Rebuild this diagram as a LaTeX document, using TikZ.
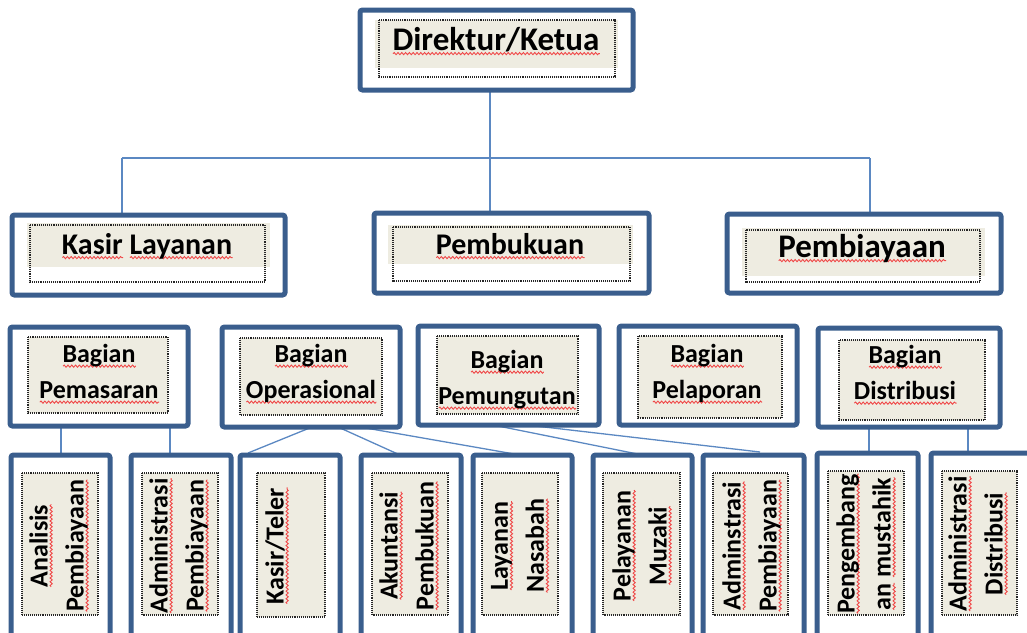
\documentclass[tikz,border=0pt]{standalone}
\usepackage{fontspec}
\setmainfont{Carlito}
\usetikzlibrary{decorations.pathmorphing}
\definecolor{boxblue}{HTML}{3A5E8D}
\definecolor{linkblue}{HTML}{5B88C2}
\definecolor{beige}{HTML}{EEECE1}
\definecolor{squig}{HTML}{F04848}

% red wavy spell-check underline under a word
\newsavebox\sqbox
\newcommand\sq[1]{\sbox\sqbox{#1}\rlap{\tikz[baseline=0pt]\draw[squig, line width=0.9pt,
  decorate, decoration={snake, amplitude=1.1pt, segment length=3.8pt}]
  (0pt,-3.6pt) -- (\wd\sqbox,-3.6pt);}\usebox\sqbox}

\pgfdeclarelayer{background}
\pgfsetlayers{background,main}

\tikzset{
  obox/.style={draw=boxblue, line width=5pt, rounded corners=2.5pt, fill=white,
    inner sep=0pt, outer sep=0pt},
  conn/.style={draw=linkblue, line width=1.3pt},
  dots/.style={draw=black!85, line width=1.4pt, dash pattern=on 1pt off 0.9pt},
  big/.style={inner sep=0pt, anchor=base, font={\bfseries\fontsize{33}{40}\selectfont}},
  mid/.style={inner sep=0pt, anchor=base, font={\bfseries\fontsize{30}{40}\selectfont}},
  lbl/.style={inner sep=0pt, align=center, font={\bfseries\fontsize{26}{36}\selectfont}},
  vlbl/.style={lbl, rotate=90},
}

% frame box: name, left, top, right, bottom
\newcommand\frameat[5]{\node[obox, anchor=north west, minimum width={#4-#2},
  minimum height={#5-#3}] (#1) at (#2,#3) {};}
% shaded dotted text panel: left, top, right, bottom
\newcommand\panel[4]{\fill[beige] (#1,#2) rectangle (#3,#4);
  \draw[dots] (#1,#2) rectangle (#3,#4);}

\begin{document}
\begin{tikzpicture}[x=1pt, y=-1pt]
\useasboundingbox (0,0) rectangle (1027,632);
\clip (0,0) rectangle (1027,632);

% ---- top level
\frameat{dir}{360}{10}{633}{90}
\fill[beige] (375,20) rectangle (618,68);
\draw[dots] (379,20) rectangle (615,77);
\node[big] (t-dir) at (496,50) {\sq{Direktur/Ketua}};

% ---- second level
\frameat{kl}{12}{215}{285}{295}
\fill[beige] (27,223) rectangle (270,267);
\draw[dots] (30,225) rectangle (265,282);
\node[mid] (t-kl) at (147,254) {\sq{Kasir} \sq{Layanan}};

\frameat{pb}{374}{213}{649}{293}
\fill[beige] (388,225) rectangle (633,264);
\draw[dots] (393,227) rectangle (630,281);
\node[mid] (t-pb) at (510,254) {\sq{Pembukuan}};

\frameat{pby}{727}{214}{1001}{293}
\fill[beige] (742,228) rectangle (985,276);
\draw[dots] (746,230) rectangle (980,282);
\node[big] (t-pby) at (862,257) {\sq{Pembiayaan}};

% ---- third level
\frameat{pem}{10}{327}{188}{426}
\panel{28}{337}{168}{413}
\node[lbl] (t-pem) at (99,374) {\sq{Bagian}\\\sq{Pemasaran}};

\frameat{ope}{222}{327}{400}{427}
\panel{240}{338}{382}{415}
\node[lbl] (t-ope) at (311,374) {\sq{Bagian}\\\sq{Operasional}};

\frameat{pmg}{418}{326}{599}{425}
\panel{437}{336}{578}{414}
\node[lbl] (t-pmg) at (507,380) {\sq{Bagian}\\\sq{Pemungutan}};

\frameat{plp}{619}{326}{797}{425}
\panel{638}{336}{782}{418}
\node[lbl] (t-plp) at (707,374) {\sq{Bagian}\\\sq{Pelaporan}};

\frameat{dis}{818}{328}{1000}{427}
\panel{839}{340}{985}{420}
\node[lbl] (t-dis) at (905,375) {\sq{Bagian}\\\sq{Distribusi}};

% ---- fourth level (runs past the lower edge)
\frameat{ana}{11}{455}{110}{660}
\panel{22}{473}{98}{615}
\node[vlbl] (t-ana) at (59,546) {\sq{Analisis}\\\sq{Pembiayaan}};

\frameat{adm}{131}{455}{231}{660}
\panel{142}{473}{218}{615}
\node[vlbl] (t-adm) at (179,546) {\sq{Administrasi}\\\sq{Pembiayaan}};

\frameat{kt}{240}{455}{340}{660}
\panel{257}{473}{325}{617}
\node[vlbl] (t-kt) at (277,546) {\sq{Kasir/Teler}};

\frameat{ak}{361}{455}{461}{660}
\panel{372}{473}{448}{615}
\node[vlbl] (t-ak) at (409,546) {\sq{Akuntansi}\\\sq{Pembukuan}};

\frameat{ln}{473}{455}{572}{660}
\panel{482}{473}{558}{615}
\node[vlbl] (t-ln) at (520,546) {\sq{Layanan}\\\sq{Nasabah}};

\frameat{pel}{593}{455}{692}{660}
\panel{603}{473}{680}{615}
\node[vlbl] (t-pel) at (642,546) {\sq{Pelayanan}\\\sq{Muzaki}};

\frameat{ad2}{703}{455}{804}{660}
\panel{713}{473}{788}{615}
\node[vlbl] (t-ad2) at (752,546) {\sq{Adminstrasi}\\\sq{Pembiayaan}};

\frameat{pg}{817}{453}{918}{660}
\panel{828}{471}{904}{615}
\node[vlbl] (t-pg) at (866,544) {\sq{Pengembang}\\\sq{an} \sq{mustahik}};

\frameat{ad3}{931}{453}{1045}{660}
\panel{942}{471}{1017}{615}
\node[vlbl] (t-ad3) at (978,544) {\sq{Administrasi}\\\sq{Distribusi}};

% ---- connectors
\coordinate (bus) at (490,158);
\coordinate (busL) at (122,158);
\coordinate (busR) at (870,158);
\coordinate (v1) at (61,440);
\coordinate (v2) at (170,440);
\coordinate (v3) at (869,440);
\coordinate (v4) at (968,440);

\begin{pgfonlayer}{background}
\draw[conn] (dir.south -| bus) -- (bus);
\draw[conn] (busL) -- (busR);
\draw[conn] (busL) -- (busL |- kl.north);
\draw[conn] (bus) -- (bus |- pb.north);
\draw[conn] (busR) -- (busR |- pby.north);

\draw[conn] (v1 |- pem.south) -- (v1 |- ana.north);
\draw[conn] (v2 |- pem.south) -- (v2 |- adm.north);
\draw[conn] (v3 |- dis.south) -- (v3 |- pg.north);
\draw[conn] (v4 |- dis.south) -- (v4 |- ad3.north);

\draw[conn] ([xshift=1pt]ope.south) -- ([xshift=-42pt,yshift=2pt]kt.north);
\draw[conn] ([xshift=27pt]ope.south) -- ([xshift=-11pt]ak.north);
\draw[conn] ([xshift=49pt]ope.south) -- ([xshift=-2.5pt]ln.north);
\draw[conn] ([xshift=-15.5pt]pmg.south) -- (pel.north);
\draw[conn] ([xshift=18.5pt]pmg.south) -- ([xshift=6.5pt,yshift=3pt]ad2.north);
\end{pgfonlayer}
\end{tikzpicture}
\end{document}
